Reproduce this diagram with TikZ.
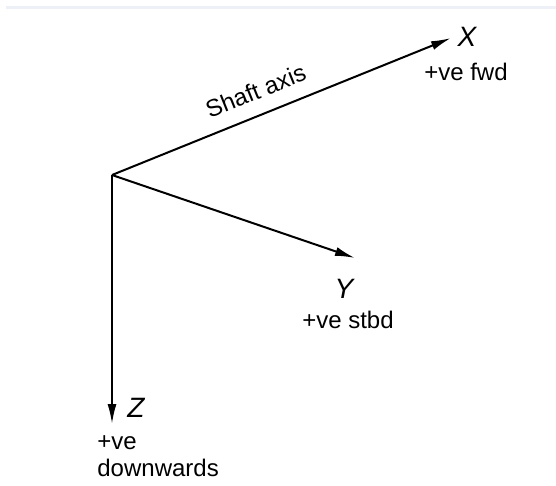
\documentclass[tikz,border=0pt]{standalone}
\usepackage{fontspec}
\setmainfont{Liberation Sans}
\usetikzlibrary{arrows.meta}
\definecolor{bandgray}{HTML}{EEF0F8}

\begin{document}
\begin{tikzpicture}[x=0.5pt, y=-0.5pt,
    axis/.style={line width=1pt, -{Latex[length=10pt, width=4.5pt]}},
    axisname/.style={font=\fontsize{14}{16}\selectfont\itshape, inner sep=0pt},
    sense/.style={font=\fontsize{12}{14}\selectfont, inner sep=0pt},
  ]
  \useasboundingbox (0,0) rectangle (556,486);
  \fill[bandgray] (6,6) rectangle (556,9);

  % Origin and axis ends
  \coordinate (O) at (112,175);
  \coordinate (xtip) at (451,38);
  \coordinate (ytip) at (355,258);
  \coordinate (ztip) at (112,424);

  % Axes
  \draw[axis] (O) -- node[pos=0.45, sloped, above=7pt, sense, anchor=south] (shaft) {Shaft axis} (xtip);
  \draw[axis] (O) -- (ytip);
  \draw[axis] (O) -- (ztip);

  % Labels
  \node[axisname] (xname) at (467,37) {X};
  \node[sense] (xsense) at (466,72) {+ve fwd};
  \node[axisname] (yname) at (344,289) {Y};
  \node[sense] (ysense) at (348,320) {+ve stbd};
  \node[axisname] (zname) at (136,408) {Z};
  \node[sense, anchor=west] (zsense) at (97,443) {+ve};
  \node[sense, anchor=west] (zdir) at (97,468) {downwards};
\end{tikzpicture}
\end{document}
